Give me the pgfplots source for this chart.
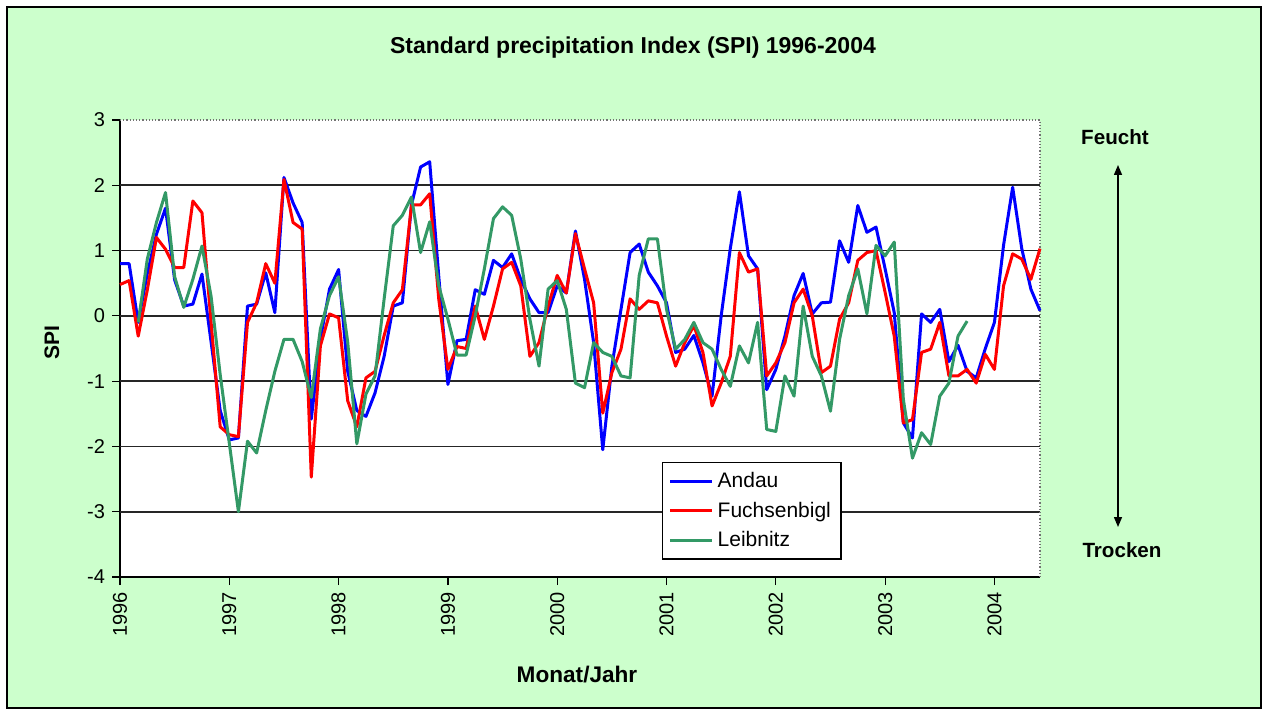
\documentclass[border=0pt]{standalone}
\usepackage{pgfplots}
\pgfplotsset{compat=1.18}
\usepackage{pgfplotstable}
\usepackage{fontspec}
\setmainfont{Liberation Sans}
\usetikzlibrary{arrows.meta}
\definecolor{bg}{HTML}{CCFFCC}
\definecolor{cAndau}{HTML}{0000FF}
\definecolor{cFuchs}{HTML}{FF0000}
\definecolor{cLeib}{HTML}{339966}

\pgfplotstableread{
m v
0 0.80
1 0.80
2 -0.10
3 0.65
4 1.25
5 1.65
6 0.55
7 0.15
8 0.18
9 0.64
10 -0.40
11 -1.45
12 -1.90
13 -1.87
14 0.15
15 0.18
16 0.66
17 0.05
18 2.12
19 1.73
20 1.43
21 -1.58
22 -0.36
23 0.41
24 0.71
25 -0.85
26 -1.45
27 -1.54
28 -1.18
29 -0.62
30 0.15
31 0.20
32 1.70
33 2.28
34 2.36
35 0.60
36 -1.05
37 -0.38
38 -0.36
39 0.40
40 0.33
41 0.85
42 0.74
43 0.95
44 0.56
45 0.26
46 0.05
47 0.05
48 0.46
49 0.35
50 1.30
51 0.56
52 -0.41
53 -2.05
54 -0.77
55 0.10
56 0.97
57 1.10
58 0.67
59 0.46
60 0.20
61 -0.56
62 -0.51
63 -0.30
64 -0.72
65 -1.23
66 0.00
67 1.03
68 1.90
69 0.92
70 0.72
71 -1.13
72 -0.82
73 -0.31
74 0.31
75 0.65
76 0.03
77 0.20
78 0.21
79 1.15
80 0.82
81 1.69
82 1.28
83 1.36
84 0.72
85 0.05
86 -1.64
87 -1.87
88 0.03
89 -0.10
90 0.10
91 -0.70
92 -0.45
93 -0.85
94 -0.95
95 -0.50
96 -0.10
97 1.08
98 1.97
99 1.03
100 0.41
101 0.08
}\andau

\pgfplotstableread{
m v
0 0.48
1 0.54
2 -0.31
3 0.40
4 1.20
5 1.02
6 0.74
7 0.74
8 1.76
9 1.58
10 -0.10
11 -1.70
12 -1.82
13 -1.85
14 -0.10
15 0.20
16 0.80
17 0.50
18 2.09
19 1.43
20 1.33
21 -2.47
22 -0.46
23 0.03
24 -0.03
25 -1.30
26 -1.70
27 -0.95
28 -0.85
29 -0.30
30 0.20
31 0.40
32 1.70
33 1.70
34 1.87
35 0.25
36 -0.82
37 -0.47
38 -0.50
39 0.15
40 -0.36
41 0.15
42 0.72
43 0.82
44 0.46
45 -0.62
46 -0.41
47 0.15
48 0.62
49 0.35
50 1.26
51 0.72
52 0.20
53 -1.49
54 -0.87
55 -0.51
56 0.26
57 0.10
58 0.23
59 0.20
60 -0.31
61 -0.77
62 -0.41
63 -0.15
64 -0.56
65 -1.38
66 -1.03
67 -0.62
68 0.97
69 0.67
70 0.72
71 -0.92
72 -0.72
73 -0.41
74 0.20
75 0.41
76 0.00
77 -0.87
78 -0.77
79 -0.05
80 0.20
81 0.85
82 0.97
83 1.00
84 0.36
85 -0.31
86 -1.64
87 -1.59
88 -0.56
89 -0.51
90 -0.10
91 -0.92
92 -0.92
93 -0.82
94 -1.03
95 -0.59
96 -0.82
97 0.46
98 0.95
99 0.87
100 0.56
101 1.03
}\fuchs

\pgfplotstableread{
m v
2 -0.10
3 0.87
4 1.43
5 1.89
6 0.60
7 0.13
8 0.56
9 1.07
10 0.30
11 -0.90
12 -1.95
13 -3.00
14 -1.92
15 -2.10
16 -1.45
17 -0.85
18 -0.36
19 -0.36
20 -0.70
21 -1.25
22 -0.20
23 0.31
24 0.60
25 -0.40
26 -1.96
27 -1.20
28 -0.92
29 0.26
30 1.38
31 1.54
32 1.82
33 0.97
34 1.44
35 0.46
36 -0.05
37 -0.60
38 -0.60
39 0.00
40 0.72
41 1.49
42 1.67
43 1.54
44 0.87
45 -0.05
46 -0.77
47 0.41
48 0.54
49 0.10
50 -1.03
51 -1.10
52 -0.41
53 -0.56
54 -0.62
55 -0.92
56 -0.95
57 0.62
58 1.18
59 1.18
60 0.10
61 -0.51
62 -0.36
63 -0.10
64 -0.41
65 -0.51
66 -0.82
67 -1.08
68 -0.46
69 -0.72
70 -0.10
71 -1.74
72 -1.77
73 -0.92
74 -1.23
75 0.15
76 -0.62
77 -0.92
78 -1.46
79 -0.36
80 0.31
81 0.72
82 0.03
83 1.08
84 0.92
85 1.13
86 -1.28
87 -2.18
88 -1.79
89 -1.97
90 -1.23
91 -1.03
92 -0.31
93 -0.08
}\leib

\begin{document}
\begin{tikzpicture}
% background (1 px = 0.5 pt)
\fill[white] (0,0) rectangle (632pt,356.5pt);
\filldraw[fill=bg, draw=black, line width=1pt] (3.5pt,2.5pt) rectangle (630.5pt,353pt);

\begin{axis}[
  at={(60pt,68pt)}, anchor=south west,
  width=460pt, height=228.5pt, scale only axis,
  xmin=1996, xmax=2004.4167, ymin=-4, ymax=3,
  axis background/.style={fill=white},
  axis lines*=left,
  axis line style={black, line width=0.7pt},
  xtick={1996,1997,1998,1999,2000,2001,2002,2003,2004},
  xticklabels={1996,1997,1998,1999,2000,2001,2002,2003,2004},
  ytick={-4,-3,-2,-1,0,1,2,3},
  yticklabels={-4,-3,-2,-1,0,1,2,3},
  extra y ticks={-3,-2,-1,0,1,2},
  extra y tick labels={},
  extra y tick style={ymajorgrids=true, major tick length=0pt},
  major grid style={black!85, line width=0.8pt},
  tick align=outside,
  major tick length=4pt,
  tick style={black, line width=0.6pt},
  ticklabel style={font=\fontsize{10}{12}\selectfont},
  xticklabel style={rotate=90, anchor=east, yshift=0pt},
  yticklabel style={anchor=east},
  clip=false,
  legend style={at={(0.589,0.252)}, anchor=north west, draw=black, line width=0.8pt,
    fill=white, font=\fontsize{10.5}{12}\selectfont, inner xsep=3pt, inner ysep=3pt,
    row sep=1.5pt, cells={anchor=west}},
  legend image code/.code={\draw[#1] (0pt,0pt) -- (21pt,0pt);},
  every axis plot/.append style={line width=1.5pt, line join=round},
]
\draw[densely dotted, black!55, line width=0.6pt] (rel axis cs:0,1) -- (rel axis cs:1,1) -- (rel axis cs:1,0);
\addplot[cAndau] table[x expr=1996+\thisrow{m}/12, y=v] {\andau};
\addlegendentry{Andau}
\addplot[cFuchs] table[x expr=1996+\thisrow{m}/12, y=v] {\fuchs};
\addlegendentry{Fuchsenbigl}
\addplot[cLeib] table[x expr=1996+\thisrow{m}/12, y=v] {\leib};
\addlegendentry{Leibnitz}
\end{axis}

\node[font=\bfseries\fontsize{11.5}{13}\selectfont] at (316.5pt,332.5pt) {Standard precipitation Index (SPI) 1996-2004};
\node[font=\bfseries\fontsize{11.3}{13}\selectfont] at (288.5pt,19pt) {Monat/Jahr};
\node[font=\bfseries\fontsize{10.5}{12}\selectfont, rotate=90] at (26pt,185pt) {SPI};
\node[font=\bfseries\fontsize{10.3}{12}\selectfont] at (557.5pt,288pt) {Feucht};
\node[font=\bfseries\fontsize{10.3}{12}\selectfont] at (561pt,81.5pt) {Trocken};
\draw[black, line width=0.7pt, {Triangle[length=5pt,width=4pt]}-{Triangle[length=5pt,width=4pt]}] (559pt,274pt) -- (559pt,93pt);
\end{tikzpicture}
\end{document}
